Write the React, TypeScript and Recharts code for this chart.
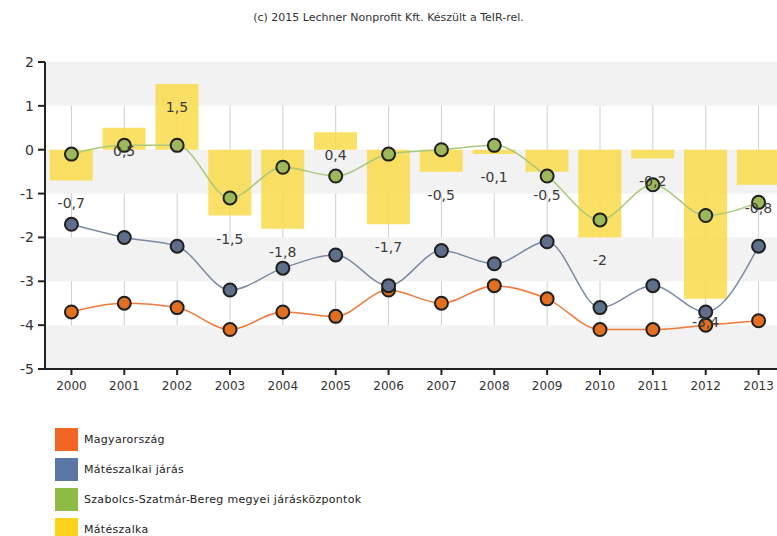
import React from 'react';
import {
  ComposedChart,
  Bar,
  Line,
  XAxis,
  YAxis,
  CartesianGrid,
  ReferenceArea,
  LabelList
} from 'recharts';

const years = ['2000', '2001', '2002', '2003', '2004', '2005', '2006', '2007', '2008', '2009', '2010', '2011', '2012', '2013'];
const magyarorszag = [-3.7, -3.5, -3.6, -4.1, -3.7, -3.8, -3.2, -3.5, -3.1, -3.4, -4.1, -4.1, -4.0, -3.9];
const jaras = [-1.7, -2.0, -2.2, -3.2, -2.7, -2.4, -3.1, -2.3, -2.6, -2.1, -3.6, -3.1, -3.7, -2.2];
const kozpontok = [-0.1, 0.1, 0.1, -1.1, -0.4, -0.6, -0.1, 0.0, 0.1, -0.6, -1.6, -0.8, -1.5, -1.2];
const mateszalka = [-0.7, 0.5, 1.5, -1.5, -1.8, 0.4, -1.7, -0.5, -0.1, -0.5, -2, -0.2, -3.4, -0.8];
const yTicks = [-5, -4, -3, -2, -1, 0, 1, 2];
const grayBands = [[1, 2], [-1, 0], [-3, -2], [-5, -4]];

const legendItems = [
  { name: 'Magyarország', color: '#f26522' },
  { name: 'Mátészalkai járás', color: '#5b77a6' },
  { name: 'Szabolcs-Szatmár-Bereg megyei járásközpontok', color: '#8dbb45' },
  { name: 'Mátészalka', color: '#fcd21c' }
];

const data = years.map((year, i) => ({
  year,
  magyarorszag: magyarorszag[i],
  jaras: jaras[i],
  kozpontok: kozpontok[i],
  mateszalka: mateszalka[i]
}));

const FONT = '"DejaVu Sans", Verdana, sans-serif';

const barLabel = (props: any) => {
  const { x, y, width, height, value } = props;
  const top = Math.min(y, y + height);
  const bottom = Math.max(y, y + height);
  const endY = value >= 0 ? top : bottom;
  return (
    <text
      x={x + width / 2}
      y={endY + 23}
      textAnchor="middle"
      dominantBaseline="central"
      fill="#3a3a3a"
      fontSize={14}
      fontFamily={FONT}
    >
      {String(value).replace('.', ',')}
    </text>
  );
};

const dot = (fill: string) => ({ r: 6.5, fill, stroke: '#1f1f1f', strokeWidth: 2 });

export default function App() {
  return (
    <div
      style={{
        position: 'absolute',
        left: 0,
        top: 0,
        width: 777,
        height: 536,
        overflow: 'hidden',
        background: '#fff',
        fontFamily: FONT
      }}
    >
      <div
        style={{
          position: 'absolute',
          top: 11,
          left: 0,
          width: 777,
          textAlign: 'center',
          fontSize: 11,
          color: '#333'
        }}
      >
        (c) 2015 Lechner Nonprofit Kft. Készült a TeIR-rel.
      </div>
      <div style={{ position: 'absolute', left: 0, top: 0 }}>
        <ComposedChart
          width={795}
          height={400}
          data={data}
          margin={{ top: 62, right: 10, bottom: 0, left: 2 }}
          barCategoryGap="9%"
        >
          {grayBands.map(([a, b]) => (
            <ReferenceArea key={`band-${a}`} y1={a} y2={b} fill="#f2f2f2" fillOpacity={1} stroke="none" />
          ))}
          <CartesianGrid horizontal={false} stroke="#cfcfcf" />
          <XAxis
            dataKey="year"
            height={31}
            tickSize={6}
            axisLine={{ stroke: '#222', strokeWidth: 2 }}
            tickLine={{ stroke: '#222', strokeWidth: 2 }}
            tick={{ fill: '#333', fontSize: 12, fontFamily: FONT }}
            tickMargin={6}
          />
          <YAxis
            width={43}
            domain={[-5, 2]}
            ticks={yTicks}
            tickSize={7}
            axisLine={{ stroke: '#222', strokeWidth: 2 }}
            tickLine={{ stroke: '#222', strokeWidth: 2 }}
            tick={{ fill: '#333', fontSize: 14, fontFamily: FONT }}
            tickMargin={4}
          />
          <Bar dataKey="mateszalka" fill="#f9da4a" fillOpacity={0.85} isAnimationActive={false}>
            <LabelList dataKey="mateszalka" content={barLabel} />
          </Bar>
          <Line
            type="monotone"
            dataKey="magyarorszag"
            stroke="#f07a3a"
            strokeWidth={1.5}
            dot={dot('#e07020')}
            isAnimationActive={false}
          />
          <Line
            type="monotone"
            dataKey="jaras"
            stroke="#7b8aa3"
            strokeWidth={1.5}
            dot={dot('#5d6f8a')}
            isAnimationActive={false}
          />
          <Line
            type="monotone"
            dataKey="kozpontok"
            stroke="#a9c87a"
            strokeWidth={1.5}
            dot={dot('#9cb85a')}
            isAnimationActive={false}
          />
        </ComposedChart>
      </div>
      <div style={{ position: 'absolute', left: 55, top: 424 }}>
        {legendItems.map((item) => (
          <div key={item.name} style={{ display: 'flex', alignItems: 'center', height: 30 }}>
            <div style={{ width: 23, height: 23, background: item.color, marginRight: 6 }} />
            <span style={{ fontSize: 11, color: '#222', letterSpacing: 0.3 }}>{item.name}</span>
          </div>
        ))}
      </div>
    </div>
  );
}
